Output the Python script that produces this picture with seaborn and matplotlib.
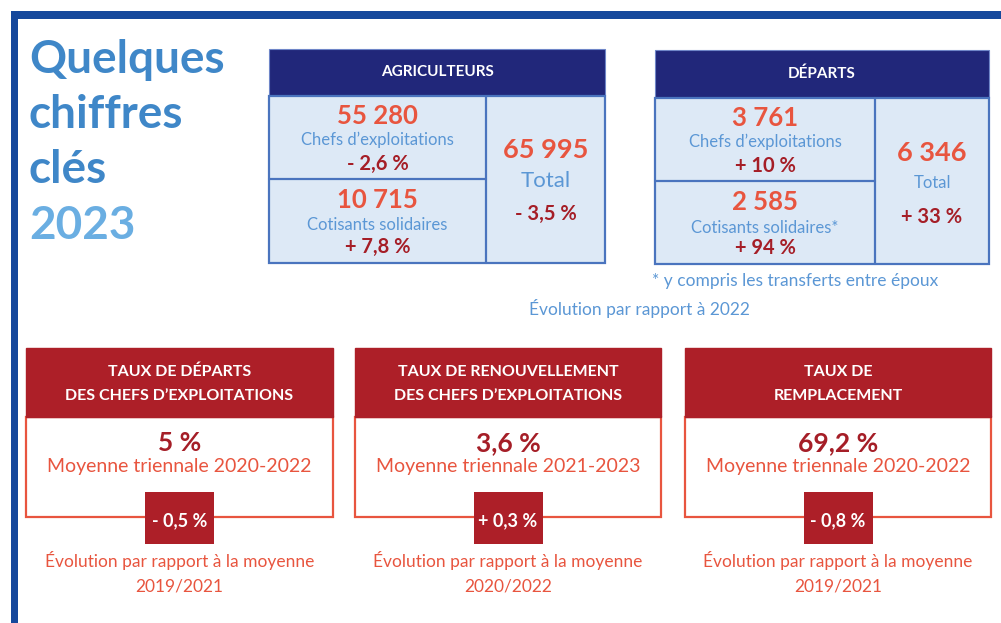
import numpy as np
import pandas as pd
import seaborn as sns
import matplotlib.pyplot as plt
from matplotlib.patches import Rectangle

# Chart data
title_lines = ["Quelques", "chiffres", "clés", "2023"]

agri_title = "AGRICULTEURS"
agri_labels = ["Chefs d’exploitations", "Cotisants solidaires"]
agri_counts = [55280, 10715]
agri_changes = [-2.6, 7.8]
agri_total = 65995
agri_total_change = -3.5

dep_title = "DÉPARTS"
dep_labels = ["Chefs d’exploitations", "Cotisants solidaires*"]
dep_counts = [3761, 2585]
dep_changes = [10, 94]
dep_total = 6346
dep_total_change = 33

footnote = "* y compris les transferts entre époux"
evol_note = "Évolution par rapport à 2022"

rate_titles = [["TAUX DE DÉPARTS", "DES CHEFS D’EXPLOITATIONS"],
               ["TAUX DE RENOUVELLEMENT", "DES CHEFS D’EXPLOITATIONS"],
               ["TAUX DE", "REMPLACEMENT"]]
rate_values = [5, 3.6, 69.2]
rate_periods = ["Moyenne triennale 2020-2022",
                "Moyenne triennale 2021-2023",
                "Moyenne triennale 2020-2022"]
rate_changes = [-0.5, 0.3, -0.8]
rate_ref = ["2019/2021", "2020/2022", "2019/2021"]

# Colours
frame_blue = "#15489c"
navy = "#21277a"
cell_fill = "#dde9f6"
cell_edge = "#4a74be"
coral = "#e8553f"
dark_red = "#a51e27"
light_blue = "#5b97d5"
title_blue = "#3f87c8"
title_blue2 = "#6aaee2"
box_red = "#ad1f28"

sns.set_theme(style="white")
plt.rcParams['font.family'] = ['Lato', 'DejaVu Sans']

HEAVY = 'bold'


def fr_number(v):
    return f"{v:,}".replace(",", " ")


def fr_pct(v):
    return f"{abs(v):g}".replace(".", ",") + " %"


def fr_change(v):
    sign = "- " if v < 0 else "+ "
    return sign + fr_pct(v)


fig = plt.figure(figsize=(10.01, 6.23), dpi=100)
ax = fig.add_axes([0, 0, 1, 1])
ax.set_xlim(0, 1001)
ax.set_ylim(623, 0)
ax.axis('off')

# Outer frame (top + left bands)
ax.add_patch(Rectangle((11, 11), 1001, 8, color=frame_blue, lw=0))
ax.add_patch(Rectangle((11, 11), 7, 623, color=frame_blue, lw=0))

# Title
title_baselines = [73, 128, 183, 239]
for i, line in enumerate(title_lines):
    col = title_blue2 if i == len(title_lines) - 1 else title_blue
    ax.text(29, title_baselines[i], line, fontsize=33, fontweight=HEAVY,
            color=col, ha='left', va='baseline')


def draw_table(x0, x1, xm, y0, yh, ym, y1, title, labels, counts, changes,
               total, total_change, base, total_base, total_size):
    ax.add_patch(Rectangle((x0, y0), x1 - x0, yh - y0, facecolor=navy,
                           edgecolor="#6f86c8", lw=0.8))
    ax.text((x0 + x1) / 2, (y0 + yh) / 2 + 4, title, color='white',
            fontsize=11, fontweight=HEAVY, ha='center', va='baseline')
    ax.add_patch(Rectangle((x0, yh), x1 - x0, y1 - yh, facecolor=cell_fill,
                           edgecolor=cell_edge, lw=1.6))
    ax.plot([xm, xm], [yh, y1], color=cell_edge, lw=1.6)
    ax.plot([x0, xm], [ym, ym], color=cell_edge, lw=1.6)
    cx = (x0 + xm) / 2
    for i in range(2):
        b = base[i]
        ax.text(cx, b[0], fr_number(counts[i]), color=coral, fontsize=18.5,
                fontweight=HEAVY, ha='center', va='baseline')
        ax.text(cx, b[1], labels[i], color=light_blue, fontsize=12,
                fontweight='normal', ha='center', va='baseline')
        ax.text(cx, b[2], fr_change(changes[i]), color=dark_red,
                fontsize=14.5, fontweight=HEAVY, ha='center', va='baseline')
    tx = (xm + x1) / 2
    ax.text(tx, total_base[0], fr_number(total), color=coral, fontsize=19.5,
            fontweight=HEAVY, ha='center', va='baseline')
    ax.text(tx, total_base[1], "Total", color=light_blue, fontsize=total_size,
            fontweight='normal', ha='center', va='baseline')
    ax.text(tx, total_base[2], fr_change(total_change), color=dark_red,
            fontsize=14.5, fontweight=HEAVY, ha='center', va='baseline')


draw_table(269, 605, 486, 49, 96, 179, 263, agri_title, agri_labels,
           agri_counts, agri_changes, agri_total, agri_total_change,
           [(124, 145, 170), (208, 230, 253)], (158, 187, 220), 16)
draw_table(655, 989, 875, 50, 98, 181, 264, dep_title, dep_labels,
           dep_counts, dep_changes, dep_total, dep_total_change,
           [(126, 147, 172), (210, 233, 254)], (161, 188, 223), 12)

ax.text(652, 286, footnote, color=light_blue, fontsize=12.5, ha='left',
        va='baseline')
ax.text(639, 315, evol_note, color=light_blue, fontsize=12.5, ha='center',
        va='baseline')

# Bottom rate boxes
box_x = [(26, 333), (355, 661), (685, 991)]
for i in range(3):
    x0, x1 = box_x[i]
    cx = (x0 + x1) / 2
    ax.add_patch(Rectangle((x0, 417), x1 - x0, 100, facecolor='white',
                           edgecolor=coral, lw=1.6))
    ax.add_patch(Rectangle((x0, 348), x1 - x0, 69, facecolor=box_red,
                           edgecolor=box_red, lw=1))
    ax.text(cx, 376, rate_titles[i][0], color='white', fontsize=11.5,
            fontweight=HEAVY, ha='center', va='baseline')
    ax.text(cx, 400, rate_titles[i][1], color='white', fontsize=11.5,
            fontweight=HEAVY, ha='center', va='baseline')
    ax.text(cx, 451, fr_pct(rate_values[i]), color=dark_red, fontsize=19,
            fontweight=HEAVY, ha='center', va='baseline')
    ax.text(cx, 472, rate_periods[i], color=coral, fontsize=14,
            ha='center', va='baseline')
    ax.add_patch(Rectangle((cx - 34.5, 492), 69, 52, facecolor=box_red,
                           lw=0))
    ax.text(cx, 526, fr_change(rate_changes[i]), color='white', fontsize=13,
            fontweight=HEAVY, ha='center', va='baseline')
    ax.text(cx, 567, "Évolution par rapport à la moyenne", color=coral,
            fontsize=12.5, ha='center', va='baseline')
    ax.text(cx, 591, rate_ref[i], color=coral, fontsize=12.5,
            ha='center', va='baseline')

plt.savefig("out.png", dpi=100)
